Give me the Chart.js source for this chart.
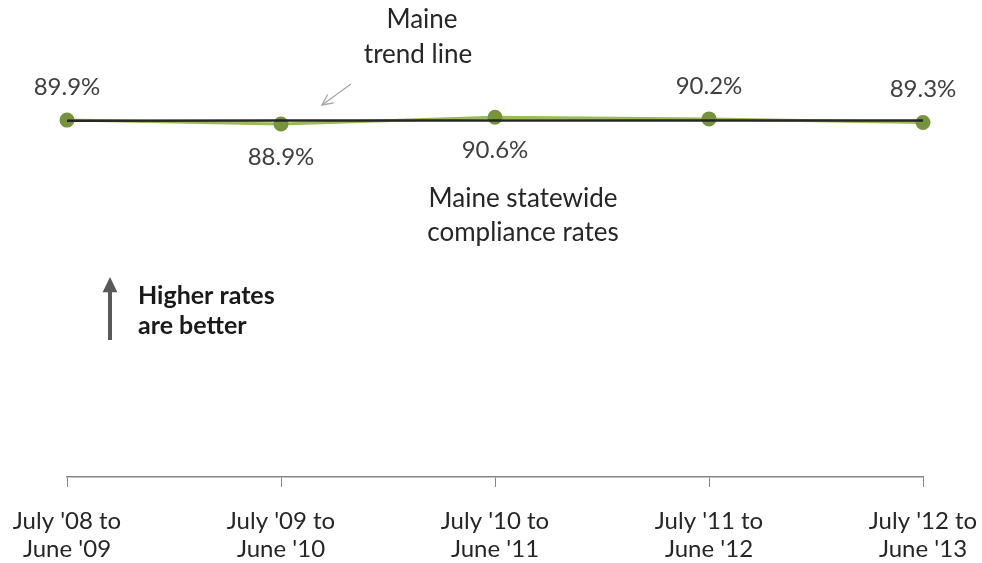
<!DOCTYPE html>
<html lang="en">

<head>
    <meta charset="UTF-8">
    <title>Maine statewide compliance rates</title>
    <script src="https://cdn.jsdelivr.net/npm/chart.js@4.4.1/dist/chart.umd.min.js"></script>
    <style>
        html, body { margin: 0; padding: 0; background: #fff; }
        #wrap { width: 982px; height: 563px; }
    </style>
</head>

<body>
    <div id="wrap">
        <canvas id="chart"></canvas>
    </div>
    <script>
        // data
        const periods = [
            ["July '08 to", "June '09"],
            ["July '09 to", "June '10"],
            ["July '10 to", "June '11"],
            ["July '11 to", "June '12"],
            ["July '12 to", "June '13"]
        ]
        const rates = [89.9, 88.9, 90.6, 90.2, 89.3]
        const trend = [89.76, 89.77, 89.78, 89.79, 89.80]
        const rateLabels = ['89.9%', '88.9%', '90.6%', '90.2%', '89.3%']

        const FONT = 'Lato, "Open Sans", sans-serif'
        // which side of the point each value label sits on
        const labelSide = ['up', 'down', 'down', 'up', 'up']

        function arrowHead(ctx, x1, y1, x2, y2, len, open) {
            let a = Math.atan2(y2 - y1, x2 - x1)
            ctx.beginPath()
            ctx.moveTo(x2 - len * Math.cos(a - 0.45), y2 - len * Math.sin(a - 0.45))
            ctx.lineTo(x2, y2)
            ctx.lineTo(x2 - len * Math.cos(a + 0.45), y2 - len * Math.sin(a + 0.45))
            if (open) {
                ctx.stroke()
            } else {
                ctx.closePath()
                ctx.fill()
            }
        }

        const notes = {
            id: 'notes',
            afterDatasetsDraw(chart) {
                const ctx = chart.ctx
                const meta = chart.getDatasetMeta(1)
                ctx.save()
                ctx.fillStyle = '#404040'
                ctx.font = '24px ' + FONT
                ctx.textAlign = 'center'
                ctx.textBaseline = 'middle'
                meta.data.forEach((pt, i) => {
                    let dy = labelSide[i] == 'up' ? -33 : 33
                    ctx.fillText(rateLabels[i], pt.x, pt.y + dy)
                })

                // trend line note
                ctx.fillStyle = '#262626'
                ctx.font = '26px ' + FONT
                ctx.fillText('Maine', 422, 20)
                ctx.fillText('trend line', 418, 55)
                ctx.strokeStyle = '#a6a6a6'
                ctx.lineWidth = 1.3
                ctx.beginPath()
                ctx.moveTo(351, 84)
                ctx.lineTo(322, 105)
                ctx.stroke()
                arrowHead(ctx, 351, 84, 322, 105, 12, true)

                // series note
                ctx.fillText('Maine statewide', 523, 199)
                ctx.fillText('compliance rates', 523, 233)

                // higher is better
                ctx.strokeStyle = '#595959'
                ctx.fillStyle = '#595959'
                ctx.lineWidth = 4
                ctx.beginPath()
                ctx.moveTo(110, 340)
                ctx.lineTo(110, 292)
                ctx.stroke()
                arrowHead(ctx, 110, 340, 110, 277, 17, false)
                ctx.fillStyle = '#1a1a1a'
                ctx.font = 'bold 25px ' + FONT
                ctx.textAlign = 'left'
                ctx.fillText('Higher rates', 138, 296)
                ctx.fillText('are better', 138, 326)
                ctx.restore()
            }
        }

        new Chart(document.getElementById('chart'), {
            type: 'line',
            data: {
                labels: periods,
                datasets: [{
                    label: 'Maine trend line',
                    data: trend,
                    borderColor: '#262626',
                    borderWidth: 2.5,
                    pointRadius: 0,
                    order: 1
                }, {
                    label: 'Maine statewide compliance rates',
                    data: rates,
                    borderColor: '#9bbb59',
                    borderWidth: 3,
                    backgroundColor: '#77933c',
                    pointBackgroundColor: '#77933c',
                    pointBorderColor: '#77933c',
                    pointRadius: 6,
                    order: 2
                }]
            },
            plugins: [notes],
            options: {
                responsive: true,
                maintainAspectRatio: false,
                animation: false,
                layout: {
                    padding: { top: 80, left: 67, right: 59, bottom: 0 }
                },
                plugins: {
                    legend: { display: false },
                    tooltip: { enabled: false }
                },
                scales: {
                    x: {
                        offset: false,
                        afterFit(scale) {
                            // let layout padding alone decide the plot edges
                            scale.paddingLeft = 0
                            scale.paddingRight = 0
                            scale.paddingTop = 0
                            scale.paddingBottom = 0
                            scale.height = 86
                        },
                        grid: {
                            display: true,
                            drawOnChartArea: false,
                            drawTicks: true,
                            tickLength: 10,
                            color: '#868686'
                        },
                        border: { display: true, color: '#868686', width: 1.5 },
                        ticks: {
                            maxRotation: 0,
                            autoSkip: false,
                            color: '#262626',
                            padding: 20,
                            font: { family: FONT, size: 24, lineHeight: 1.17 }
                        }
                    },
                    y: {
                        display: false,
                        min: 0,
                        max: 100
                    }
                }
            }
        })
    </script>
</body>

</html>
